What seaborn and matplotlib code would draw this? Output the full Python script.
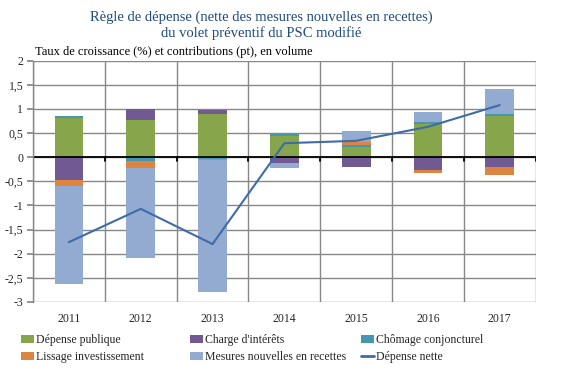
import numpy as np
import pandas as pd
import matplotlib
matplotlib.use("Agg")
import matplotlib.pyplot as plt
import seaborn as sns
from matplotlib.patches import Patch
from matplotlib.lines import Line2D

years = ["2011", "2012", "2013", "2014", "2015", "2016", "2017"]
depense_publique = [0.81, 0.77, 0.89, 0.44, 0.22, 0.69, 0.86]
charge_interets = [-0.48, 0.23, 0.085, -0.12, -0.21, -0.275, -0.20]
chomage_conj = [0.04, -0.08, -0.035, 0.05, 0.04, 0.04, 0.04]
lissage_invest = [-0.12, -0.14, -0.025, 0.0, 0.06, -0.045, -0.16]
mesures_recettes = [-2.03, -1.87, -2.73, -0.10, 0.23, 0.21, 0.52]
depense_nette = [-1.76, -1.07, -1.80, 0.29, 0.34, 0.63, 1.08]

series_names = ["Dépense publique", "Charge d'intérêts", "Chômage conjoncturel",
                "Lissage investissement", "Mesures nouvelles en recettes"]
series_vals = [depense_publique, charge_interets, chomage_conj, lissage_invest, mesures_recettes]
colors = ["#87A54B", "#715A91", "#4398AF", "#DE8441", "#93AAD1"]
line_color = "#3F6BA8"
line_name = "Dépense nette"

sns.set_theme(style="white")
plt.rcParams["font.family"] = ["Liberation Serif", "DejaVu Serif"]

fig = plt.figure(figsize=(5.66, 3.70), dpi=100)
ax = fig.add_axes([33/566, 1 - 302/370, (535.7 - 33)/566, (302 - 60.7)/370])

pos_base = np.zeros(len(years))
neg_base = np.zeros(len(years))
for name, vals, col in zip(series_names, series_vals, colors):
    v = np.array(vals, dtype=float)
    bottom = np.where(v >= 0, pos_base, neg_base)
    df = pd.DataFrame({"year": years, "val": v})
    sns.barplot(data=df, x="year", y="val", color=col, bottom=bottom,
                width=0.40, ax=ax, saturation=1, errorbar=None, linewidth=0)
    pos_base = pos_base + np.where(v >= 0, v, 0)
    neg_base = neg_base + np.where(v < 0, v, 0)

dfl = pd.DataFrame({"year": years, "val": depense_nette})
sns.pointplot(data=dfl, x="year", y="val", color=line_color, markers="",
              linestyles="-", errorbar=None, ax=ax, linewidth=1.5)

ax.set_xlim(-0.5, len(years) - 0.5)
ax.set_ylim(-3, 2)
yt = np.arange(-3, 2.01, 0.5)
ax.set_yticks(yt)
ax.set_yticklabels([("%g" % t).replace(".", ",") for t in yt], fontsize=8.5)
ax.set_xticks(range(len(years)))
ax.set_xticklabels(years, fontsize=8.5)
ax.set_xticks(np.arange(-0.5, len(years)), minor=True)
ax.tick_params(axis="x", which="major", length=0, pad=8)
ax.tick_params(axis="x", which="minor", length=0)
ax.tick_params(axis="y", which="major", length=4, direction="out", color="#878787", pad=3, left=True)
ax.grid(True, axis="y", which="major", color="#878787", linewidth=1)
ax.grid(True, axis="x", which="minor", color="#878787", linewidth=1)
ax.grid(False, axis="x", which="major")
ax.set_axisbelow(True)
for s in ["top", "right", "bottom"]:
    ax.spines[s].set_visible(False)
ax.spines["left"].set_color("#878787")
ax.spines["left"].set_linewidth(1)
ax.axhline(0, color="black", linewidth=1.3, zorder=1.5)
for b in np.arange(-0.5, len(years)):
    ax.plot([b, b], [0, -0.08], color="black", linewidth=1.3, zorder=1.5)
ax.set_xlabel("")
ax.set_ylabel("")

fig.text(261/566, 1 - 17/370, "Règle de dépense (nette des mesures nouvelles en recettes)",
         ha="center", va="center", fontsize=10.5, color="#1F4A7E")
fig.text(261/566, 1 - 33/370, "du volet préventif du PSC modifié",
         ha="center", va="center", fontsize=10.5, color="#1F4A7E")
fig.text(35/566, 1 - 52/370, "Taux de croissance (%) et contributions (pt), en volume",
         ha="left", va="center", fontsize=9, color="black")

handles = [Patch(facecolor=c, edgecolor="none") for c in colors]
handles.append(Line2D([0], [0], color=line_color, linewidth=2))
labels = series_names + [line_name]
cols = [(0, 3), (1, 4), (2, 5)]
xs = [21, 190, 361]
for (i, j), x0 in zip(cols, xs):
    fig.legend([handles[i], handles[j]], [labels[i], labels[j]],
               loc="upper left", bbox_to_anchor=(x0/566, 1 - 334/370),
               frameon=False, fontsize=8.5, handlelength=1.1, handleheight=0.6,
               handletextpad=0.2, labelspacing=0.45, borderpad=0, borderaxespad=0)

fig.savefig("out.png", dpi=100)
